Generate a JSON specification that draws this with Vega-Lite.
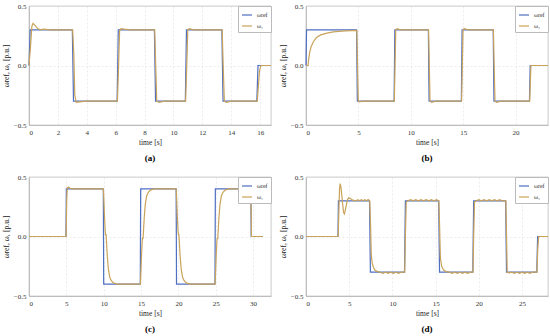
{
"$schema": "https://vega.github.io/schema/vega-lite/v6.json",
"padding": {"left": 2, "top": 1, "right": 0, "bottom": 0},
"background": "white",
"datasets": {
"a": [
{"s":"ref","t":0,"v":0},{"s":"ref","t":0.08,"v":0.3},{"s":"ref","t":3.0,"v":0.3},{"s":"ref","t":3.08,"v":-0.3},{"s":"ref","t":6.1,"v":-0.3},{"s":"ref","t":6.18,"v":0.3},{"s":"ref","t":8.68,"v":0.3},{"s":"ref","t":8.76,"v":-0.3},{"s":"ref","t":10.82,"v":-0.3},{"s":"ref","t":10.9,"v":0.3},{"s":"ref","t":13.35,"v":0.3},{"s":"ref","t":13.43,"v":-0.3},{"s":"ref","t":15.77,"v":-0.3},{"s":"ref","t":15.85,"v":0},{"s":"ref","t":16.75,"v":0},
{"s":"w1","t":0,"v":0},{"s":"w1","t":0.1,"v":0.15},{"s":"w1","t":0.2,"v":0.33},{"s":"w1","t":0.28,"v":0.355},{"s":"w1","t":0.4,"v":0.34},{"s":"w1","t":0.6,"v":0.31},{"s":"w1","t":0.8,"v":0.3},{"s":"w1","t":1.0,"v":0.305},{"s":"w1","t":1.5,"v":0.3},{"s":"w1","t":3.02,"v":0.3},{"s":"w1","t":3.1,"v":0.1},{"s":"w1","t":3.17,"v":-0.25},{"s":"w1","t":3.27,"v":-0.31},{"s":"w1","t":3.5,"v":-0.305},{"s":"w1","t":4,"v":-0.3},{"s":"w1","t":6.12,"v":-0.3},{"s":"w1","t":6.2,"v":0},{"s":"w1","t":6.27,"v":0.29},{"s":"w1","t":6.37,"v":0.31},{"s":"w1","t":6.6,"v":0.305},{"s":"w1","t":7,"v":0.3},{"s":"w1","t":8.7,"v":0.3},{"s":"w1","t":8.77,"v":0},{"s":"w1","t":8.84,"v":-0.3},{"s":"w1","t":9.0,"v":-0.31},{"s":"w1","t":9.4,"v":-0.3},{"s":"w1","t":10.84,"v":-0.3},{"s":"w1","t":10.92,"v":0},{"s":"w1","t":10.99,"v":0.3},{"s":"w1","t":11.1,"v":0.31},{"s":"w1","t":11.4,"v":0.3},{"s":"w1","t":13.37,"v":0.3},{"s":"w1","t":13.44,"v":0},{"s":"w1","t":13.52,"v":-0.3},{"s":"w1","t":13.65,"v":-0.31},{"s":"w1","t":14,"v":-0.3},{"s":"w1","t":15.8,"v":-0.3},{"s":"w1","t":15.95,"v":-0.05},{"s":"w1","t":16.05,"v":0},{"s":"w1","t":16.75,"v":0}
],
"b": [
{"s":"ref","t":0,"v":0},{"s":"ref","t":0.05,"v":0.3},{"s":"ref","t":4.83,"v":0.3},{"s":"ref","t":4.9,"v":-0.3},{"s":"ref","t":8.41,"v":-0.3},{"s":"ref","t":8.48,"v":0.3},{"s":"ref","t":11.68,"v":0.3},{"s":"ref","t":11.75,"v":-0.3},{"s":"ref","t":14.83,"v":-0.3},{"s":"ref","t":14.9,"v":0.3},{"s":"ref","t":17.87,"v":0.3},{"s":"ref","t":17.94,"v":-0.3},{"s":"ref","t":21.33,"v":-0.3},{"s":"ref","t":21.4,"v":0},{"s":"ref","t":23.1,"v":0},
{"s":"w1","t":0,"v":0},{"s":"w1","t":0.2,"v":0},{"s":"w1","t":0.25,"v":0.05},{"s":"w1","t":0.35,"v":0.11},{"s":"w1","t":0.5,"v":0.16},{"s":"w1","t":0.7,"v":0.2},{"s":"w1","t":1.0,"v":0.235},{"s":"w1","t":1.4,"v":0.257},{"s":"w1","t":2.0,"v":0.272},{"s":"w1","t":2.6,"v":0.282},{"s":"w1","t":3.4,"v":0.289},{"s":"w1","t":4.2,"v":0.293},{"s":"w1","t":4.85,"v":0.295},{"s":"w1","t":4.92,"v":0},{"s":"w1","t":4.99,"v":-0.3},{"s":"w1","t":5.1,"v":-0.305},{"s":"w1","t":5.4,"v":-0.3},{"s":"w1","t":8.43,"v":-0.3},{"s":"w1","t":8.5,"v":0},{"s":"w1","t":8.57,"v":0.3},{"s":"w1","t":8.7,"v":0.31},{"s":"w1","t":9,"v":0.3},{"s":"w1","t":11.7,"v":0.3},{"s":"w1","t":11.77,"v":0},{"s":"w1","t":11.84,"v":-0.3},{"s":"w1","t":12,"v":-0.31},{"s":"w1","t":12.4,"v":-0.3},{"s":"w1","t":14.85,"v":-0.3},{"s":"w1","t":14.92,"v":0},{"s":"w1","t":14.99,"v":0.3},{"s":"w1","t":15.1,"v":0.31},{"s":"w1","t":15.5,"v":0.3},{"s":"w1","t":17.89,"v":0.3},{"s":"w1","t":17.96,"v":0},{"s":"w1","t":18.04,"v":-0.3},{"s":"w1","t":18.2,"v":-0.31},{"s":"w1","t":18.6,"v":-0.3},{"s":"w1","t":21.35,"v":-0.3},{"s":"w1","t":21.47,"v":0},{"s":"w1","t":23.1,"v":0}
],
"c": [
{"s":"ref","t":0,"v":0},{"s":"ref","t":4.95,"v":0},{"s":"ref","t":5.0,"v":0.4},{"s":"ref","t":9.95,"v":0.4},{"s":"ref","t":10.0,"v":-0.4},{"s":"ref","t":14.9,"v":-0.4},{"s":"ref","t":14.95,"v":0.4},{"s":"ref","t":19.7,"v":0.4},{"s":"ref","t":19.75,"v":-0.4},{"s":"ref","t":24.9,"v":-0.4},{"s":"ref","t":24.95,"v":0.4},{"s":"ref","t":29.7,"v":0.4},{"s":"ref","t":29.75,"v":0},{"s":"ref","t":31.3,"v":0},
{"s":"w1","t":0,"v":0},{"s":"w1","t":4.97,"v":0},{"s":"w1","t":5.05,"v":0.3},{"s":"w1","t":5.12,"v":0.41},{"s":"w1","t":5.3,"v":0.415},{"s":"w1","t":5.5,"v":0.405},{"s":"w1","t":5.8,"v":0.4},{"s":"w1","t":9.96,"v":0.4},{"s":"w1","t":10.03,"v":0.3},{"s":"w1","t":10.12,"v":0.15},{"s":"w1","t":10.22,"v":0.03},{"s":"w1","t":10.28,"v":0.01},{"s":"w1","t":10.32,"v":0.02},{"s":"w1","t":10.38,"v":-0.05},{"s":"w1","t":10.48,"v":-0.16},{"s":"w1","t":10.62,"v":-0.27},{"s":"w1","t":10.8,"v":-0.34},{"s":"w1","t":11.0,"v":-0.37},{"s":"w1","t":11.3,"v":-0.39},{"s":"w1","t":11.8,"v":-0.4},{"s":"w1","t":14.91,"v":-0.4},{"s":"w1","t":14.98,"v":-0.3},{"s":"w1","t":15.07,"v":-0.15},{"s":"w1","t":15.17,"v":-0.03},{"s":"w1","t":15.23,"v":-0.01},{"s":"w1","t":15.27,"v":-0.02},{"s":"w1","t":15.33,"v":0.05},{"s":"w1","t":15.43,"v":0.16},{"s":"w1","t":15.57,"v":0.27},{"s":"w1","t":15.75,"v":0.34},{"s":"w1","t":15.95,"v":0.37},{"s":"w1","t":16.25,"v":0.39},{"s":"w1","t":16.75,"v":0.4},{"s":"w1","t":19.71,"v":0.4},{"s":"w1","t":19.78,"v":0.3},{"s":"w1","t":19.87,"v":0.15},{"s":"w1","t":19.97,"v":0.03},{"s":"w1","t":20.03,"v":0.01},{"s":"w1","t":20.07,"v":0.02},{"s":"w1","t":20.13,"v":-0.05},{"s":"w1","t":20.23,"v":-0.16},{"s":"w1","t":20.37,"v":-0.27},{"s":"w1","t":20.55,"v":-0.34},{"s":"w1","t":20.75,"v":-0.37},{"s":"w1","t":21.05,"v":-0.39},{"s":"w1","t":21.55,"v":-0.4},{"s":"w1","t":24.91,"v":-0.4},{"s":"w1","t":24.98,"v":-0.3},{"s":"w1","t":25.07,"v":-0.15},{"s":"w1","t":25.17,"v":-0.03},{"s":"w1","t":25.23,"v":-0.01},{"s":"w1","t":25.27,"v":-0.02},{"s":"w1","t":25.33,"v":0.05},{"s":"w1","t":25.43,"v":0.16},{"s":"w1","t":25.57,"v":0.27},{"s":"w1","t":25.75,"v":0.34},{"s":"w1","t":25.95,"v":0.37},{"s":"w1","t":26.25,"v":0.39},{"s":"w1","t":26.75,"v":0.4},{"s":"w1","t":29.71,"v":0.4},{"s":"w1","t":29.78,"v":0},{"s":"w1","t":31.3,"v":0}
],
"d": [
{"s":"ref","t":0,"v":0},{"s":"ref","t":3.7,"v":0},{"s":"ref","t":3.75,"v":0.3},{"s":"ref","t":7.35,"v":0.3},{"s":"ref","t":7.45,"v":-0.3},{"s":"ref","t":11.4,"v":-0.3},{"s":"ref","t":11.5,"v":0.3},{"s":"ref","t":15.35,"v":0.3},{"s":"ref","t":15.45,"v":-0.3},{"s":"ref","t":19.3,"v":-0.3},{"s":"ref","t":19.4,"v":0.3},{"s":"ref","t":23.1,"v":0.3},{"s":"ref","t":23.2,"v":-0.3},{"s":"ref","t":26.7,"v":-0.3},{"s":"ref","t":26.8,"v":0},{"s":"ref","t":28,"v":0},
{"s":"w1","t":0,"v":0},{"s":"w1","t":3.72,"v":0},{"s":"w1","t":3.8,"v":0.2},{"s":"w1","t":3.88,"v":0.4},{"s":"w1","t":3.95,"v":0.445},{"s":"w1","t":4.05,"v":0.41},{"s":"w1","t":4.2,"v":0.3},{"s":"w1","t":4.35,"v":0.2},{"s":"w1","t":4.45,"v":0.19},{"s":"w1","t":4.6,"v":0.24},{"s":"w1","t":4.8,"v":0.31},{"s":"w1","t":4.95,"v":0.325},{"s":"w1","t":5.15,"v":0.32},{"s":"w1","t":5.4,"v":0.305},{"s":"w1","t":5.8,"v":0.3},{"s":"w1","t":6.0,"v":0.31},{"s":"w1","t":6.2,"v":0.3},{"s":"w1","t":6.4,"v":0.31},{"s":"w1","t":6.6,"v":0.3},{"s":"w1","t":6.8,"v":0.31},{"s":"w1","t":7.0,"v":0.3},{"s":"w1","t":7.2,"v":0.31},{"s":"w1","t":7.37,"v":0.3},{"s":"w1","t":7.47,"v":0.1},{"s":"w1","t":7.55,"v":-0.15},{"s":"w1","t":7.65,"v":-0.22},{"s":"w1","t":7.8,"v":-0.26},{"s":"w1","t":8.0,"v":-0.285},{"s":"w1","t":8.3,"v":-0.295},{"s":"w1","t":8.6,"v":-0.3},{"s":"w1","t":8.9,"v":-0.31},{"s":"w1","t":9.2,"v":-0.3},{"s":"w1","t":9.5,"v":-0.31},{"s":"w1","t":9.8,"v":-0.3},{"s":"w1","t":10.1,"v":-0.31},{"s":"w1","t":10.4,"v":-0.3},{"s":"w1","t":10.7,"v":-0.31},{"s":"w1","t":11.0,"v":-0.3},{"s":"w1","t":11.42,"v":-0.3},{"s":"w1","t":11.5,"v":0},{"s":"w1","t":11.6,"v":0.29},{"s":"w1","t":11.8,"v":0.3},{"s":"w1","t":12.1,"v":0.31},{"s":"w1","t":12.4,"v":0.3},{"s":"w1","t":12.7,"v":0.31},{"s":"w1","t":13.0,"v":0.3},{"s":"w1","t":13.3,"v":0.31},{"s":"w1","t":13.6,"v":0.3},{"s":"w1","t":13.9,"v":0.31},{"s":"w1","t":14.2,"v":0.3},{"s":"w1","t":14.5,"v":0.31},{"s":"w1","t":14.8,"v":0.3},{"s":"w1","t":15.1,"v":0.31},{"s":"w1","t":15.37,"v":0.3},{"s":"w1","t":15.47,"v":0.05},{"s":"w1","t":15.55,"v":-0.18},{"s":"w1","t":15.7,"v":-0.25},{"s":"w1","t":15.9,"v":-0.28},{"s":"w1","t":16.2,"v":-0.295},{"s":"w1","t":16.6,"v":-0.3},{"s":"w1","t":16.9,"v":-0.31},{"s":"w1","t":17.2,"v":-0.3},{"s":"w1","t":17.5,"v":-0.31},{"s":"w1","t":17.8,"v":-0.3},{"s":"w1","t":18.1,"v":-0.31},{"s":"w1","t":18.4,"v":-0.3},{"s":"w1","t":18.7,"v":-0.31},{"s":"w1","t":19.0,"v":-0.3},{"s":"w1","t":19.32,"v":-0.3},{"s":"w1","t":19.4,"v":0},{"s":"w1","t":19.5,"v":0.29},{"s":"w1","t":19.7,"v":0.3},{"s":"w1","t":20.0,"v":0.31},{"s":"w1","t":20.3,"v":0.3},{"s":"w1","t":20.6,"v":0.31},{"s":"w1","t":20.9,"v":0.3},{"s":"w1","t":21.2,"v":0.31},{"s":"w1","t":21.5,"v":0.3},{"s":"w1","t":21.8,"v":0.31},{"s":"w1","t":22.1,"v":0.3},{"s":"w1","t":22.4,"v":0.31},{"s":"w1","t":22.7,"v":0.3},{"s":"w1","t":23.12,"v":0.3},{"s":"w1","t":23.2,"v":0},{"s":"w1","t":23.28,"v":-0.3},{"s":"w1","t":23.5,"v":-0.305},{"s":"w1","t":23.8,"v":-0.3},{"s":"w1","t":24.1,"v":-0.31},{"s":"w1","t":24.4,"v":-0.3},{"s":"w1","t":24.7,"v":-0.31},{"s":"w1","t":25.0,"v":-0.3},{"s":"w1","t":25.3,"v":-0.31},{"s":"w1","t":25.6,"v":-0.3},{"s":"w1","t":25.9,"v":-0.31},{"s":"w1","t":26.2,"v":-0.3},{"s":"w1","t":26.72,"v":-0.3},{"s":"w1","t":26.82,"v":-0.1},{"s":"w1","t":26.92,"v":0},{"s":"w1","t":28,"v":0}
]
},
"columns": 2,
"spacing": {"row": 52, "column": 35},
"bounds": "flush",
"resolve": {"scale": {"color": "independent", "x": "independent", "y": "independent"}, "legend": {"color": "independent"}},
"concat": [
{
"data": {"name": "a"},
"width": 242, "height": 119,
"title": "(a)",
"mark": {"type": "line", "strokeWidth": 1.2},
"encoding": {
"x": {"field": "t", "type": "quantitative", "scale": {"domain": [0, 16.75], "nice": false, "zero": false}, "axis": {"values": [0,2,4,6,8,10,12,14,16], "title": "time [s]"}},
"y": {"field": "v", "type": "quantitative", "scale": {"domain": [-0.5, 0.5], "nice": false}, "axis": {"values": [-0.5, 0, 0.5], "title": "ωref, ω₁ [p.u.]"}},
"color": {"field": "s", "type": "nominal", "scale": {"domain": ["ref", "w1"], "range": ["#4f6fc2", "#c9a35a"]}, "legend": {"labelExpr": "datum.value == 'ref' ? 'ωref' : 'ω₁'"}}
}
},
{
"data": {"name": "b"},
"width": 242, "height": 119,
"title": "(b)",
"mark": {"type": "line", "strokeWidth": 1.2},
"encoding": {
"x": {"field": "t", "type": "quantitative", "scale": {"domain": [0, 23.1], "nice": false, "zero": false}, "axis": {"values": [0,5,10,15,20], "title": "time [s]"}},
"y": {"field": "v", "type": "quantitative", "scale": {"domain": [-0.5, 0.5], "nice": false}, "axis": {"values": [-0.5, 0, 0.5], "title": "ωref, ω₁ [p.u.]"}},
"color": {"field": "s", "type": "nominal", "scale": {"domain": ["ref", "w1"], "range": ["#4f6fc2", "#c9a35a"]}, "legend": {"labelExpr": "datum.value == 'ref' ? 'ωref' : 'ω₁'"}}
}
},
{
"data": {"name": "c"},
"width": 242, "height": 119,
"title": "(c)",
"mark": {"type": "line", "strokeWidth": 1.2},
"encoding": {
"x": {"field": "t", "type": "quantitative", "scale": {"domain": [0, 32.4], "nice": false, "zero": false}, "axis": {"values": [0,5,10,15,20,25,30], "title": "time [s]"}},
"y": {"field": "v", "type": "quantitative", "scale": {"domain": [-0.5, 0.5], "nice": false}, "axis": {"values": [-0.5, 0, 0.5], "title": "ωref, ω₁ [p.u.]"}},
"color": {"field": "s", "type": "nominal", "scale": {"domain": ["ref", "w1"], "range": ["#4f6fc2", "#c9a35a"]}, "legend": {"labelExpr": "datum.value == 'ref' ? 'ωref' : 'ω₁'"}}
}
},
{
"data": {"name": "d"},
"width": 242, "height": 119,
"title": "(d)",
"mark": {"type": "line", "strokeWidth": 1.2},
"encoding": {
"x": {"field": "t", "type": "quantitative", "scale": {"domain": [0, 28], "nice": false, "zero": false}, "axis": {"values": [0,5,10,15,20,25], "title": "time [s]"}},
"y": {"field": "v", "type": "quantitative", "scale": {"domain": [-0.5, 0.5], "nice": false}, "axis": {"values": [-0.5, 0, 0.5], "title": "ωref, ω₁ [p.u.]"}},
"color": {"field": "s", "type": "nominal", "scale": {"domain": ["ref", "w1"], "range": ["#4f6fc2", "#c9a35a"]}, "legend": {"labelExpr": "datum.value == 'ref' ? 'ωref' : 'ω₁'"}}
}
}
],
"config": {
"font": "Liberation Serif",
"view": {"stroke": "#a6a6a6", "strokeWidth": 0.6},
"axis": {"labelFont": "Liberation Serif", "labelFontSize": 7, "labelColor": "#333333", "titleFont": "Liberation Serif", "titleFontSize": 7.5, "titleFontWeight": "normal", "titleColor": "#222222", "gridColor": "#d9d9d9", "gridWidth": 0.5, "gridDash": [2, 2], "domainColor": "#a6a6a6", "domainWidth": 0.6, "ticks": false, "labelPadding": 3, "titlePadding": 3},
"legend": {"orient": "top-right", "offset": 0, "padding": 3, "fillColor": "white", "strokeColor": "#bbbbbb", "symbolType": "stroke", "symbolSize": 100, "symbolStrokeWidth": 1.2, "labelFont": "Liberation Serif", "labelFontSize": 6, "labelColor": "#333333", "rowPadding": 2, "title": null},
"title": {"font": "Liberation Serif", "fontSize": 9, "fontWeight": "bold", "orient": "bottom", "offset": 8, "anchor": "middle", "color": "#000000"}
}
}
